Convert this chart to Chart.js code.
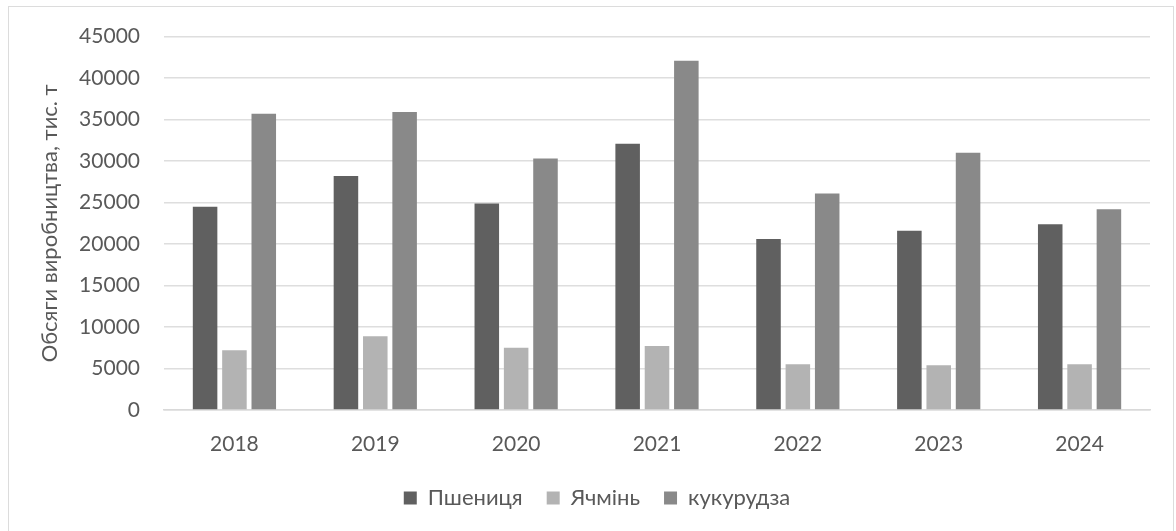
<!DOCTYPE html>
<html>
<head>
<meta charset="utf-8">
<script src="https://cdn.jsdelivr.net/npm/chart.js@4"></script>
<style>
  html, body { margin: 0; padding: 0; background: #ffffff; }
  #wrap { position: relative; width: 1176px; height: 531px; }
  #frame { position: absolute; left: 8px; top: 6px; width: 1166px; height: 540px;
           border: 1.5px solid #dcdcdc; box-sizing: border-box; pointer-events: none; }
  canvas { display: block; }
</style>
</head>
<body>
<div id="wrap">
  <canvas id="c" width="1176" height="531"></canvas>
  <div id="frame"></div>
</div>
<script>
const categories = ['2018', '2019', '2020', '2021', '2022', '2023', '2024'];
const wheat  = [24500, 28200, 24900, 32100, 20600, 21600, 22400];
const barley = [7200, 8900, 7500, 7700, 5500, 5400, 5500];
const corn   = [35700, 35900, 30300, 42100, 26100, 31000, 24200];
const seriesNames = ['Пшениця', 'Ячмінь', 'кукурудза'];
const yTitle = 'Обсяги виробництва, тис. т';

const FONT = 'Lato, "Open Sans", "Liberation Sans", sans-serif';
const TEXT = '#595959';

new Chart(document.getElementById('c'), {
  type: 'bar',
  data: {
    labels: categories,
    datasets: [
      { label: seriesNames[0], data: wheat,  backgroundColor: '#606060' },
      { label: seriesNames[1], data: barley, backgroundColor: '#b3b3b3' },
      { label: seriesNames[2], data: corn,   backgroundColor: '#898989' }
    ]
  },
  options: {
    responsive: false,
    animation: false,
    devicePixelRatio: 1,
    datasets: { bar: { categoryPercentage: 0.625, barPercentage: 0.836 } },
    layout: { padding: { top: 34, right: 26, bottom: 12, left: 44 } },
    plugins: {
      tooltip: { enabled: false },
      legend: {
        position: 'bottom',
        labels: {
          font: { family: FONT, size: 22 },
          color: TEXT,
          boxWidth: 13,
          boxHeight: 13,
          padding: 24
        }
      }
    },
    scales: {
      x: {
        grid: { display: false, drawTicks: false },
        border: { display: true, color: '#d9d9d9', width: 1.5 },
        ticks: { font: { family: FONT, size: 21 }, color: TEXT, padding: 22 },
        afterFit: (s) => { s.height = 53; }
      },
      y: {
        min: 0, max: 45000,
        grid: { color: '#dedede', lineWidth: 1.5, drawTicks: false },
        border: { display: false },
        ticks: { stepSize: 5000, font: { family: FONT, size: 21 }, color: TEXT, padding: 24,
                 callback: (v) => String(v) },
        title: {
          display: true, text: yTitle,
          font: { family: FONT, size: 22 }, color: TEXT,
          padding: { top: -7, bottom: 0 }
        },
        afterFit: (s) => { s.width = 120; }
      }
    }
  }
});
</script>
</body>
</html>
